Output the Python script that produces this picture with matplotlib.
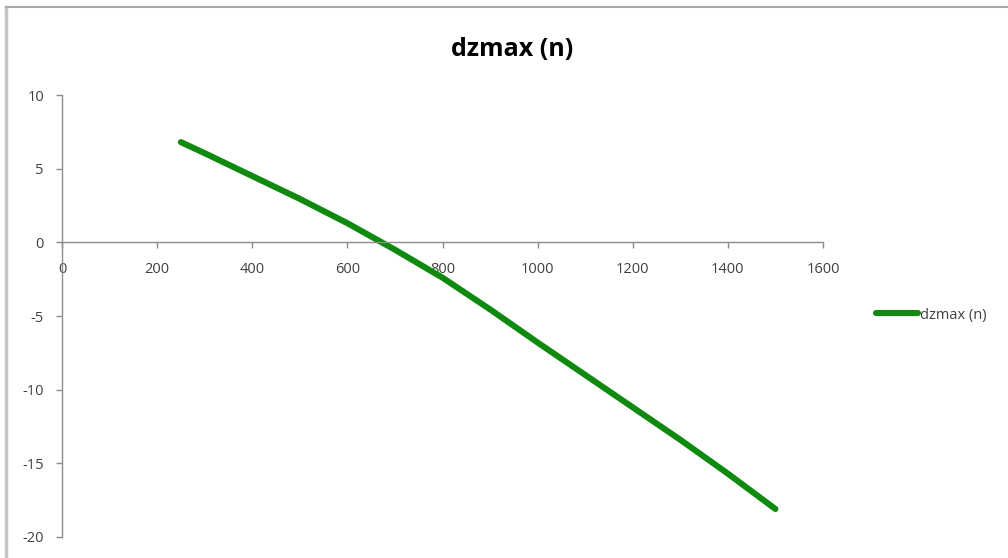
import matplotlib
matplotlib.use("Agg")
import matplotlib.pyplot as plt
from matplotlib.lines import Line2D

# Data
n_values = [250, 300, 400, 500, 600, 700, 800, 900, 1000, 1100, 1200, 1300, 1400, 1500]
dzmax_values = [6.8, 6.05, 4.5, 2.95, 1.3, -0.5, -2.4, -4.55, -6.8, -9.0, -11.2, -13.4, -15.7, -18.1]
x_ticks = [0, 200, 400, 600, 800, 1000, 1200, 1400, 1600]
y_ticks = [-20, -15, -10, -5, 0, 5, 10]
title_text = "dzmax (n)"
series_label = "dzmax (n)"

W, H = 1008, 558
fig = plt.figure(figsize=(W / 100, H / 100), dpi=100)
plt.rcParams['font.family'] = ['Open Sans', 'DejaVu Sans']

def fx(px):
    return px / W

def fy(py):
    return 1 - py / H

left, right, top, bottom = 62, 823, 95, 537
ax = fig.add_axes([fx(left), fy(bottom), fx(right) - fx(left), fy(top) - fy(bottom)])

axis_color = "#8c8c8c"
text_color = "#404040"
green = "#0f8a0f"

line, = ax.plot(n_values, dzmax_values, color=green, linewidth=4.4,
                solid_capstyle="round", solid_joinstyle="round", label=series_label)

ax.set_xlim(0, 1600)
ax.set_ylim(-20, 10)
ax.set_xticks(x_ticks)
ax.set_yticks(y_ticks)
ax.set_xticklabels([str(v) for v in x_ticks])
ax.set_yticklabels([str(v) for v in y_ticks])

for s in ["top", "right"]:
    ax.spines[s].set_visible(False)
ax.spines["left"].set_position(("data", 0))
ax.spines["bottom"].set_position(("data", 0))
for s in ["left", "bottom"]:
    ax.spines[s].set_color(axis_color)
    ax.spines[s].set_linewidth(1.0)

ax.tick_params(axis="x", direction="out", length=4, width=1, color=axis_color,
               labelsize=10.5, labelcolor=text_color, pad=10)
ax.tick_params(axis="y", direction="out", length=4, width=1, color=axis_color,
               labelsize=10.5, labelcolor=text_color, pad=9)

fig.text(fx(512), fy(50), title_text, ha="center", va="center",
         fontsize=18, fontweight="bold", color="#000000")

# Legend
leg = fig.legend(handles=[line], labels=[series_label], loc="center left",
                 bbox_to_anchor=(fx(870), fy(315)), frameon=False, fontsize=10.5,
                 handlelength=2.9, handletextpad=0.15, borderaxespad=0)
for t in leg.get_texts():
    t.set_color(text_color)

# Chart frame (left and top edges visible)
fig.add_artist(Line2D([fx(6), fx(6)], [fy(7), fy(H + 5)], color="#c4c4c4", linewidth=2.5))
fig.add_artist(Line2D([fx(6), fx(W + 5)], [fy(7), fy(7)], color="#a8a8a8", linewidth=1.5))

fig.savefig("out.png", dpi=100)
